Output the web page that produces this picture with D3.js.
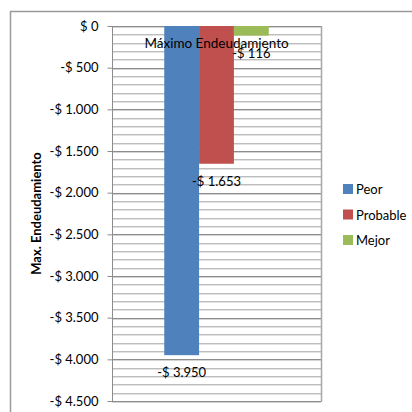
<!DOCTYPE html>
<html>
<head>
<meta charset="utf-8">
<script src="https://cdn.jsdelivr.net/npm/d3@7"></script>
<style>
  body { margin: 0; background: #fff; }
  svg { display: block; font-family: Lato, "Open Sans", sans-serif; }
</style>
</head>
<body>
<svg id="chart" width="412" height="412"></svg>
<script>
// data
const categories = ["Máximo Endeudamiento"];
const series = ["Peor", "Probable", "Mejor"];
const values = [-3950, -1653, -116];
const colors = ["#4F81BD", "#C0504D", "#9BBB59"];
const yTicks = [0, -500, -1000, -1500, -2000, -2500, -3000, -3500, -4000, -4500];

const svg = d3.select("#chart");
const plot = { left: 112, right: 321, top: 26, bottom: 401 };

const locale = d3.formatLocale({
    decimal: ",", thousands: ".", grouping: [3], currency: ["$ ", ""], minus: "-"
});
const fmt = locale.format("$,.0f");

// outer chart border
svg.append("rect")
    .attr("x", 10.5).attr("y", 11.5)
    .attr("width", 420).attr("height", 420)
    .attr("fill", "none")
    .attr("stroke", "#9a9a9a")
    .attr("stroke-width", 1.5);

const y = d3.scaleLinear()
    .domain([0, -4500])
    .range([plot.top, plot.bottom]);

const x0 = d3.scaleBand()
    .domain(categories)
    .range([plot.left, plot.right])
    .paddingInner(0)
    .paddingOuter(0.5);

const x1 = d3.scaleBand()
    .domain(series)
    .range([0, x0.bandwidth()]);

// minor gridlines every 100
const minor = d3.range(0, -4501, -100).filter(v => v % 500 !== 0);
const grid = svg.append("g");
grid.selectAll("line.minor-a")
    .data(minor)
    .enter().append("line")
    .attr("x1", plot.left).attr("x2", plot.right)
    .attr("y1", d => Math.round(y(d)) + 0.5)
    .attr("y2", d => Math.round(y(d)) + 0.5)
    .attr("stroke", "#bdbdbd");
grid.selectAll("line.minor-b")
    .data(minor)
    .enter().append("line")
    .attr("x1", plot.left).attr("x2", plot.right)
    .attr("y1", d => Math.round(y(d)) + 1.5)
    .attr("y2", d => Math.round(y(d)) + 1.5)
    .attr("stroke", "#e2e2e2");
// major gridlines every 500
grid.selectAll("line.major")
    .data(yTicks)
    .enter().append("line")
    .attr("x1", plot.left).attr("x2", plot.right)
    .attr("y1", d => Math.round(y(d)) + 0.5)
    .attr("y2", d => Math.round(y(d)) + 0.5)
    .attr("stroke", "#8c8c8c");
grid.selectAll("line.major-b")
    .data(yTicks)
    .enter().append("line")
    .attr("x1", plot.left).attr("x2", plot.right)
    .attr("y1", d => Math.round(y(d)) + 1.5)
    .attr("y2", d => Math.round(y(d)) + 1.5)
    .attr("stroke", "#d4d4d4");

// plot right border
svg.append("line")
    .attr("x1", plot.right + 0.5).attr("x2", plot.right + 0.5)
    .attr("y1", plot.top).attr("y2", plot.bottom + 1)
    .attr("stroke", "#a6a6a6")
    .attr("stroke-width", 1.5);

// bars
svg.append("g")
    .selectAll("rect")
    .data(values)
    .enter().append("rect")
    .attr("x", (d, i) => x0(categories[0]) + x1(series[i]))
    .attr("y", y(0))
    .attr("width", x1.bandwidth())
    .attr("height", d => y(d) - y(0))
    .attr("fill", (d, i) => colors[i]);

// y axis
const yAxis = svg.append("g")
    .attr("transform", `translate(${plot.left + 0.5},0)`)
    .call(d3.axisLeft(y).tickValues(yTicks).tickSize(5).tickPadding(9).tickFormat(fmt));
yAxis.select(".domain").attr("stroke", "#8c8c8c").attr("d", `M0,${plot.top}V${plot.bottom + 1}`);
yAxis.selectAll(".tick line").attr("stroke", "#8c8c8c");
yAxis.selectAll(".tick text")
    .attr("fill", "#000")
    .style("font-family", "Lato, sans-serif")
    .style("font-size", "13px");

// category axis crossing at 0
const xAxis = svg.append("g")
    .attr("transform", `translate(0,${y(0)})`)
    .call(d3.axisBottom(x0).tickSize(0).tickPadding(12));
xAxis.select(".domain").remove();
xAxis.selectAll(".tick text")
    .attr("fill", "#000")
    .style("font-family", "Lato, sans-serif")
    .style("font-size", "13.5px");

// data labels
svg.append("g")
    .selectAll("text")
    .data(values)
    .enter().append("text")
    .attr("x", (d, i) => x0(categories[0]) + x1(series[i]) + x1.bandwidth() / 2)
    .attr("y", d => y(d) + 22)
    .attr("text-anchor", "middle")
    .style("font-size", "13px")
    .text(d => fmt(d));

// y axis title
svg.append("text")
    .attr("transform", `translate(41,${(plot.top + plot.bottom) / 2}) rotate(-90)`)
    .attr("text-anchor", "middle")
    .style("font-size", "13px")
    .style("font-weight", "bold")
    .text("Max. Endeudamiento");

// legend
const legend = svg.append("g")
    .attr("transform", "translate(343,184)")
    .selectAll("g")
    .data(series)
    .enter().append("g")
    .attr("transform", (d, i) => `translate(0,${i * 25.5})`);
legend.append("rect")
    .attr("width", 10).attr("height", 10)
    .attr("fill", (d, i) => colors[i]);
legend.append("text")
    .attr("x", 13).attr("y", 10)
    .style("font-size", "13px")
    .text(d => d);
</script>
</body>
</html>
